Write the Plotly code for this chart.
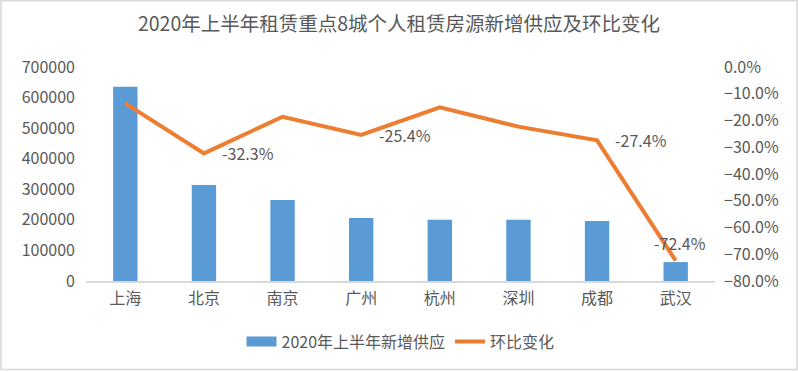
import plotly.graph_objects as go

cities = ["上海", "北京", "南京", "广州", "杭州", "深圳", "成都", "武汉"]
new_supply = [635000, 314000, 265000, 206000, 200000, 200000, 196000, 62000]
mom_change = [-0.136, -0.323, -0.186, -0.254, -0.151, -0.223, -0.274, -0.724]
label_flags = [False, True, False, True, False, False, True, True]

title_text = "2020年上半年租赁重点8城个人租赁房源新增供应及环比变化"
bar_name = "2020年上半年新增供应"
line_name = "环比变化"

FONT = "Noto Sans CJK SC"
GREY = "#595959"
BLUE = "#5B9BD5"
ORANGE = "#ED7D31"

fig = go.Figure()
fig.add_trace(go.Bar(
    x=cities, y=new_supply, name=bar_name, showlegend=False,
    marker=dict(color=BLUE, line=dict(width=0)),
    width=0.31,
))
fig.add_trace(go.Scatter(
    x=cities, y=mom_change, name=line_name, yaxis="y2", showlegend=False,
    mode="lines", line=dict(color=ORANGE, width=4),
))
# legend-only entries
fig.add_trace(go.Scatter(x=[None], y=[None], name=bar_name, mode="lines",
                         line=dict(color=BLUE, width=10)))
fig.add_trace(go.Scatter(x=[None], y=[None], name=line_name, mode="lines",
                         yaxis="y2", line=dict(color=ORANGE, width=4)))

annotations = []
for i, (c, v, f) in enumerate(zip(cities, mom_change, label_flags)):
    if not f:
        continue
    txt = f"{v*100:.1f}%"
    if i == len(cities) - 1:
        annotations.append(dict(x=c, y=v, xref="x", yref="y2", text=txt,
                                showarrow=False, xanchor="center", yanchor="bottom",
                                yshift=4, xshift=4,
                                font=dict(size=16, color=GREY, family=FONT)))
    else:
        annotations.append(dict(x=c, y=v, xref="x", yref="y2", text=txt,
                                showarrow=False, xanchor="left", yanchor="middle",
                                xshift=16, yshift=0,
                                font=dict(size=16, color=GREY, family=FONT)))

fig.update_layout(
    width=798, height=372,
    margin=dict(l=86, r=83, t=67, b=91),
    paper_bgcolor="white", plot_bgcolor="white",
    font=dict(family=FONT, color=GREY, size=16),
    title=dict(text=title_text, x=0.5, xanchor="center", y=1 - 24 / 372, yanchor="middle",
               font=dict(size=19.5, color=GREY, family=FONT)),
    xaxis=dict(showgrid=False, showline=True, linecolor="#D9D9D9", linewidth=1.5,
               ticks="", tickfont=dict(size=16, color=GREY), ticklabelstandoff=2),
    yaxis=dict(range=[0, 700000], dtick=100000, tickformat="d", showgrid=False,
               zeroline=False, showline=False, ticks="",
               tickfont=dict(size=16, color=GREY), ticklabelstandoff=10),
    yaxis2=dict(range=[-0.8, 0], dtick=0.1, tickformat=".1%", overlaying="y",
                side="right", showgrid=False, zeroline=False, showline=False,
                ticks="", tickfont=dict(size=16, color=GREY), ticklabelstandoff=8),
    legend=dict(orientation="h", x=0.5, xanchor="center", y=(281 - 341.5) / 214,
                yanchor="middle", font=dict(size=16, color=GREY)),
    annotations=annotations,
    shapes=[dict(type="rect", xref="paper", yref="paper",
                 x0=(1 - 86) / 629, x1=(797 - 86) / 629,
                 y0=(281 - 369.5) / 214, y1=(281 - 0.8) / 214,
                 line=dict(color="#D9D9D9", width=1.6), fillcolor="rgba(0,0,0,0)",
                 layer="below")],
)

fig.write_html("out.html",
               config={"displayModeBar": False},
               post_script="document.body.style.margin='0';document.body.style.overflow='hidden';")
